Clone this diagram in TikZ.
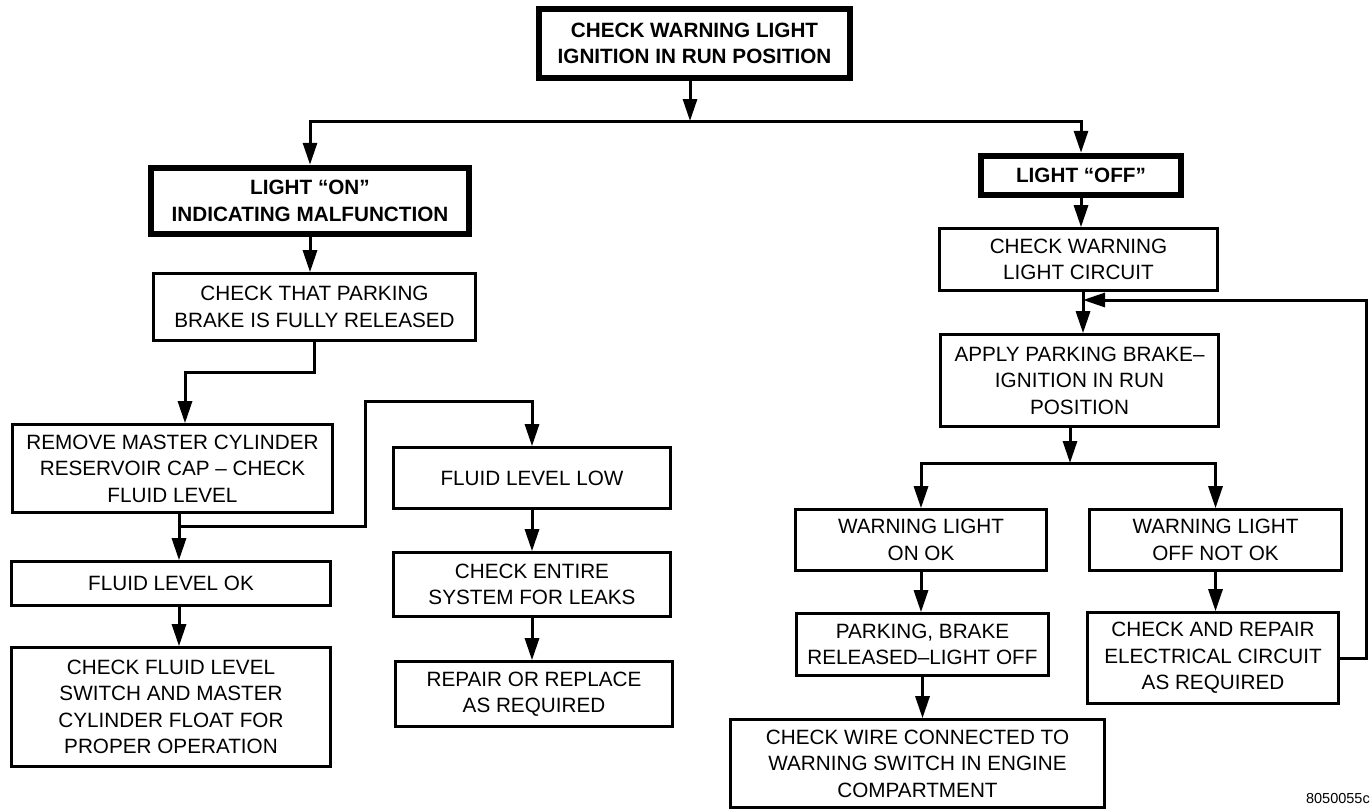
\documentclass[tikz,border=0pt]{standalone}
\usepackage{fontspec}
\setmainfont{Liberation Sans}
\usepackage{tikz}
\usetikzlibrary{arrows.meta, calc, positioning}

\begin{document}
\begin{tikzpicture}[x = 1pt, y = -1pt,
        font = \fontsize{20.7}{26.5}\selectfont,
        box/.style = {draw, line width = 2.6pt, align = center, inner sep = 0pt},
        bigbox/.style = {box, line width = 6.5pt, font = \fontsize{20.7}{26.5}\selectfont\bfseries},
        link/.style = {line width = 3pt},
        arrow/.style = {link, -{Triangle[length = 22pt, width = 14pt]}}]%{{{
                \useasboundingbox (0, 0) rectangle (1372, 811);

                \node (top) [bigbox, minimum width = 311pt, minimum height = 69pt] at (694.5, 43.5) {CHECK WARNING LIGHT\\IGNITION IN RUN POSITION};

                \node (on) [bigbox, minimum width = 318pt, minimum height = 66pt] at (310, 201) {LIGHT “ON”\\INDICATING MALFUNCTION};
                \node (park) [box, minimum width = 322pt, minimum height = 67pt] at (314.5, 307) {CHECK THAT PARKING\\BRAKE IS FULLY RELEASED};
                \node (remove) [box, minimum width = 320pt, minimum height = 88pt] at (172.5, 468.5) {REMOVE MASTER CYLINDER\\RESERVOIR CAP – CHECK\\FLUID LEVEL};
                \node (ok) [box, minimum width = 319pt, minimum height = 44pt] at (171, 583.5) {FLUID LEVEL OK};
                \node (float) [box, minimum width = 319pt, minimum height = 119pt] at (171, 707) {CHECK FLUID LEVEL\\SWITCH AND MASTER\\CYLINDER FLOAT FOR\\PROPER OPERATION};
                \node (low) [box, minimum width = 277pt, minimum height = 61pt] at (532, 478) {FLUID LEVEL LOW};
                \node (leaks) [box, minimum width = 277pt, minimum height = 64pt] at (532, 584.5) {CHECK ENTIRE\\SYSTEM FOR LEAKS};
                \node (repair) [box, minimum width = 277pt, minimum height = 65pt] at (534, 694) {REPAIR OR REPLACE\\AS REQUIRED};

                \node (off) [bigbox, minimum width = 200pt, minimum height = 39pt] at (1081, 175.5) {LIGHT “OFF”};
                \node (circuit) [box, minimum width = 278pt, minimum height = 62pt] at (1078.5, 259.5) {CHECK WARNING\\LIGHT CIRCUIT};
                \node (apply) [box, minimum width = 278pt, minimum height = 92pt] at (1079.5, 380.5) {APPLY PARKING BRAKE–\\IGNITION IN RUN\\POSITION};
                \node (lon) [box, minimum width = 251pt, minimum height = 61pt] at (921, 540) {WARNING LIGHT\\ON OK};
                \node (loff) [box, minimum width = 252pt, minimum height = 61pt] at (1215.5, 540) {WARNING LIGHT\\OFF NOT OK};
                \node (released) [box, minimum width = 252pt, minimum height = 62pt] at (922.5, 644.5) {PARKING, BRAKE\\RELEASED–LIGHT OFF};
                \node (elec) [box, minimum width = 251pt, minimum height = 91pt] at (1213, 658) {CHECK AND REPAIR\\ELECTRICAL CIRCUIT\\AS REQUIRED};
                \node (wire) [box, minimum width = 374pt, minimum height = 88pt] at (917.5, 763.5) {CHECK WIRE CONNECTED TO\\WARNING SWITCH IN ENGINE\\COMPARTMENT};

                \node (code) [anchor = base east, inner sep = 0pt, font = \fontsize{14.5}{17}\selectfont] at (1370, 803) {8050055c};

                \coordinate (split) at (690, 121);
                \coordinate (bend) at (185, 372);
                \coordinate (drop) at (179, 526);
                \coordinate (jog) at (365, 401);
                \coordinate (loop) at (1083, 300);
                \coordinate (fork) at (1070, 463);

                \draw [arrow] (split |- top.south) -- (split);
                \draw [arrow] (split) -| (on.north);
                \draw [arrow] (split) -| (off.north);

                \draw [arrow] (on.south) -- (on.south |- park.north);
                \draw [arrow] (park.south) |- (bend) -- (bend |- remove.north);
                \draw [arrow] (drop |- remove.south) -- (drop |- ok.north);
                \draw [arrow] (drop) -| (jog) -| (low.north);
                \draw [arrow] (ok.south -| drop) -- (float.north -| drop);
                \draw [arrow] (low.south) -- (leaks.north);
                \draw [arrow] (leaks.south) -- (leaks.south |- repair.north);

                \draw [arrow] (off.south) -- (off.south |- circuit.north);
                \draw [arrow] (loop |- circuit.south) -- (loop |- apply.north);
                \draw [arrow] (fork |- apply.south) -- (fork);
                \draw [arrow] (fork) -| (lon.north);
                \draw [arrow] (fork) -| (loff.north);
                \draw [arrow] (lon.south) -- (lon.south |- released.north);
                \draw [arrow] (released.south) -- (released.south |- wire.north);
                \draw [arrow] (loff.south) -- (loff.south |- elec.north);
                \draw [arrow] (elec.east) -- ++(27, 0) |- (loop);
            \end{tikzpicture}
\end{document}
